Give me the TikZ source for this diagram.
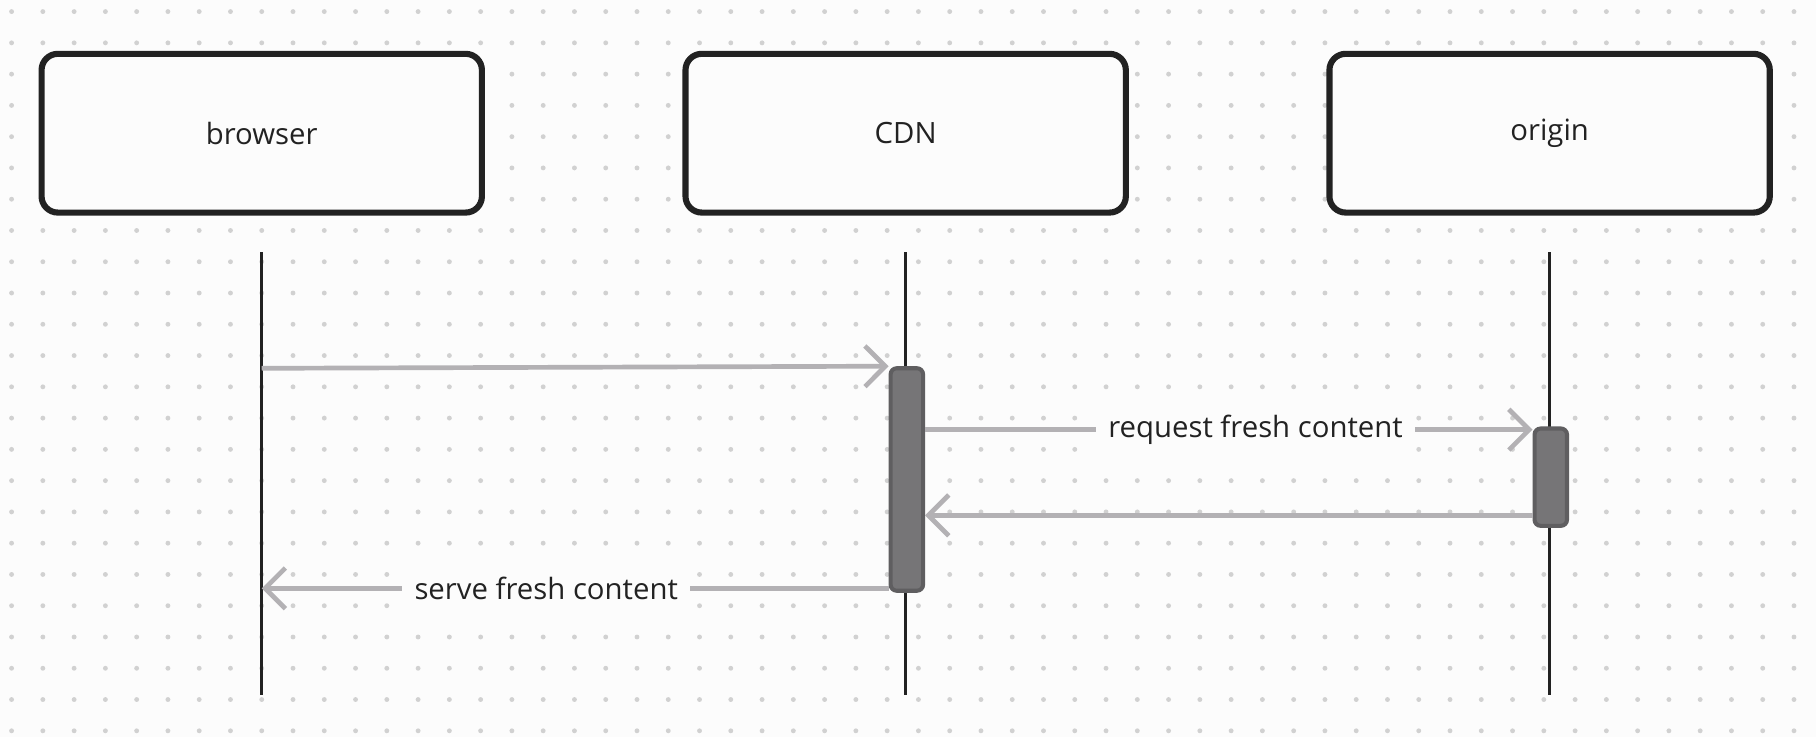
\documentclass[tikz,border=0pt]{standalone}
\usepackage{fontspec}
\setmainfont{Open Sans}
\usetikzlibrary{arrows.meta}
\usetikzlibrary{calc}
\definecolor{msgline}{HTML}{B3B1B4}
\definecolor{actfill}{HTML}{767577}
\definecolor{actdraw}{HTML}{5F5E60}
\definecolor{ink}{HTML}{222222}
\begin{document}
\begin{tikzpicture}[x=.01cm, y=-.01cm,
actor/.style={draw=ink, line width=1.5pt, rounded corners=4pt, minimum width=3.8cm, minimum height=1.37cm, font=\fontsize{7.2}{8}\selectfont, text=ink},
lifeline/.style={draw=ink, line width=.85pt},
activation/.style={draw=actdraw, fill=actfill, line width=1pt, rounded corners=1.5pt, minimum width=.28cm, inner sep=0},
msg/.style={draw=msgline, line width=1.15pt, -{Straight Barb[length=5pt, width=10pt, line width=1.15pt]}},
felirat/.style={fill=white!99!black, inner sep=3pt, font=\fontsize{7.2}{8}\selectfont, text=ink}]
\fill[white!99!black] (0,0) rectangle (1568,636);
\useasboundingbox (0,0) rectangle (1568,636);
\foreach \i in {0,...,58}
  \foreach \j in {0,...,23}
    \fill[black!18] (10+27*\i,10+27*\j) circle (.6pt);
%%%%%%%%%% actors %%%%%%%%%%%
\node[actor, fill=white!99!black] (browser) at (226,115) {browser};
\node[actor, fill=white!99!black] (cdn) at (782,115) {CDN};
\node[actor, fill=white!99!black] (origin) at (1338,115) {origin};
\coordinate (bT) at (226,218); \coordinate (bB) at (226,600);
\coordinate (cT) at (782,218); \coordinate (cB) at (782,600);
\coordinate (oT) at (1338,218); \coordinate (oB) at (1338,600);
\draw[lifeline] (bT) -- (bB);
\draw[lifeline] (cT) -- (cB);
\draw[lifeline] (oT) -- (oB);
%%%%%%%%%% activations %%%%%%%%%%%
\node[activation, minimum height=1.92cm] (cact) at (783,414) {};
\node[activation, minimum height=.84cm] (oact) at (1339,412) {};
%%%%%%%%%% messages %%%%%%%%%%%
\coordinate (m1) at (226,318);
\draw[msg] (m1) -- (cact.north west);
\coordinate (m2) at (cact.east |- 0,371);
\draw[msg] (m2) -- (oact.west |- m2) node[midway, felirat, xshift=.23cm]{request fresh content};
\coordinate (m3) at (oact.west |- 0,445);
\draw[msg] (m3) -- (cact.east |- m3);
\coordinate (m4) at (cact.west |- 0,508);
\coordinate (m4e) at (226,508);
\draw[msg] (m4) -- (m4e) node[midway, felirat, xshift=-.25cm]{serve fresh content};
\end{tikzpicture}
\end{document}
